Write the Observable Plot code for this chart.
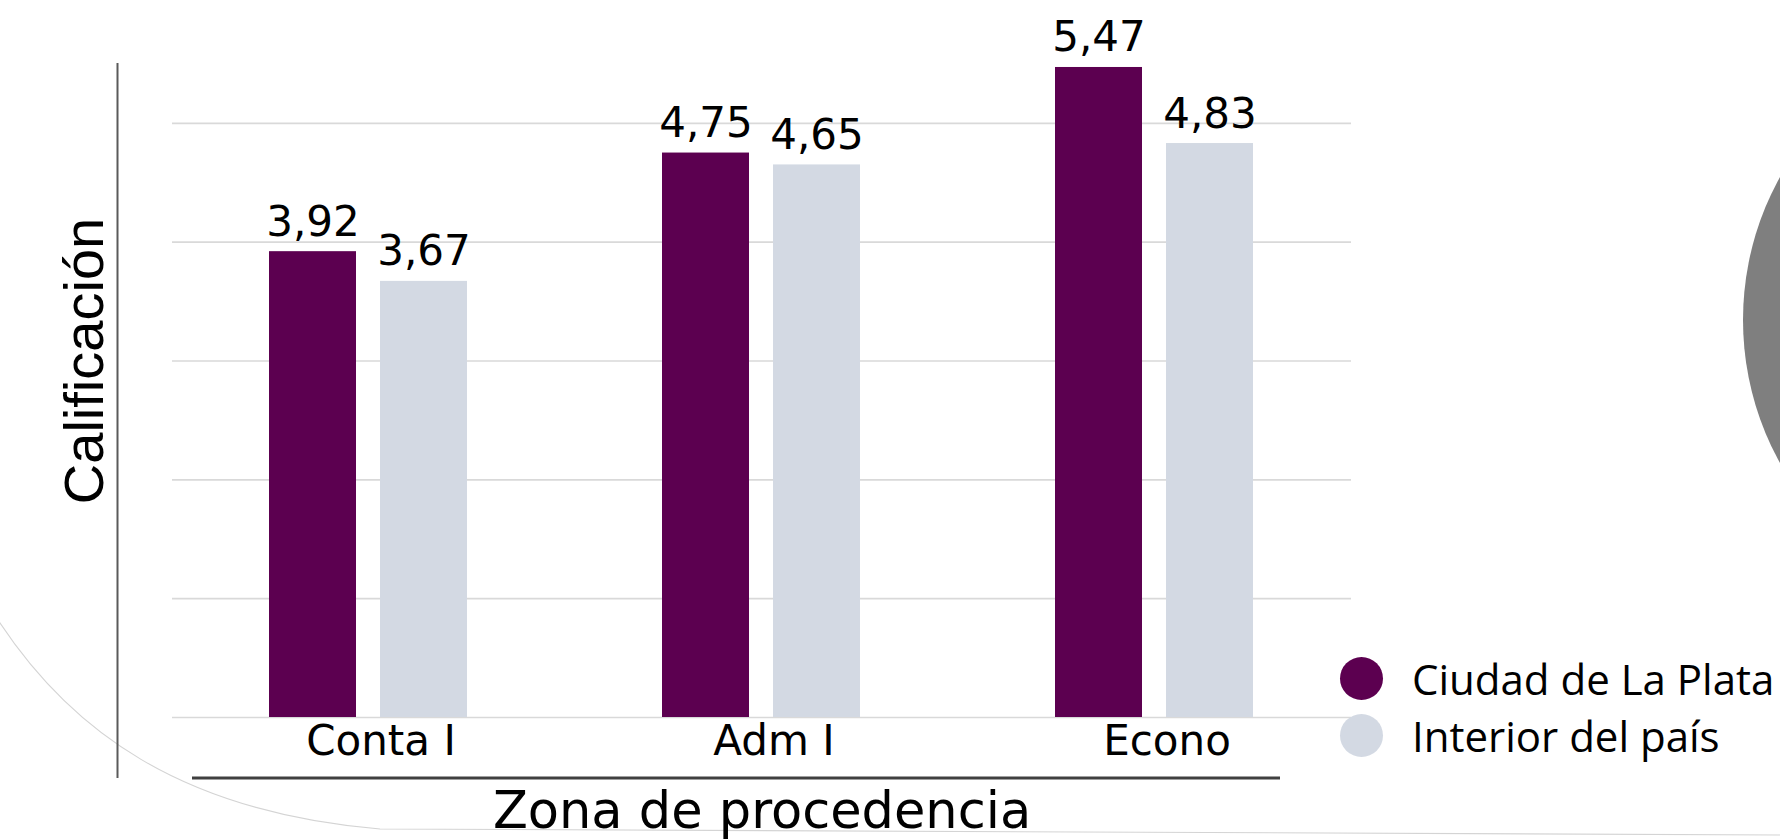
<!DOCTYPE html>
<html>
<head>
<meta charset="utf-8">
<script src="https://cdn.jsdelivr.net/npm/d3@7"></script>
<script src="https://cdn.jsdelivr.net/npm/@observablehq/plot@0.6"></script>
<style>
  html, body { margin: 0; padding: 0; background: #ffffff; }
  #wrap { position: relative; width: 1780px; height: 840px; overflow: hidden; background: #ffffff; }
  #deco, #chart, #legend { position: absolute; left: 0; top: 0; }
  #legend { font-family: "Open Sans", sans-serif; }
</style>
</head>
<body>
<div id="wrap">
  <svg id="deco" width="1780" height="840"></svg>
  <div id="chart"></div>
  <svg id="legend" width="1780" height="840"></svg>
</div>
<script>
// ---- data ----
const categories = ["Conta I", "Adm I", "Econo"];
const series = ["Ciudad de La Plata", "Interior del país"];
const laPlata = [3.92, 4.75, 5.47];
const interior = [3.67, 4.65, 4.83];
const colors = ["#5c0050", "#d3d9e3"];
const yTicks = [0, 1, 2, 3, 4, 5];
const xTitle = "Zona de procedencia";
const yTitle = "Calificación";

const data = categories.flatMap((c, i) => [
  {cat: c, serie: series[0], value: laPlata[i]},
  {cat: c, serie: series[1], value: interior[i]}
]);
const fmt = v => v.toFixed(2).replace(".", ",");

// ---- decorations (slide background) ----
const deco = d3.select("#deco");
deco.append("path")
  .attr("d", "M -2 620 C 70 730, 180 812, 380 829 L 1780 835")
  .attr("fill", "none").attr("stroke", "#d4d4d4").attr("stroke-width", 1.1);
deco.append("circle").attr("cx", 2038).attr("cy", 320).attr("r", 295).attr("fill", "#7f7f7f");
deco.append("line").attr("x1", 117.5).attr("x2", 117.5).attr("y1", 63).attr("y2", 778)
  .attr("stroke", "#5a5a5a").attr("stroke-width", 2);
deco.append("line").attr("x1", 192).attr("x2", 1280).attr("y1", 778).attr("y2", 778)
  .attr("stroke", "#404040").attr("stroke-width", 3);

// ---- chart ----
const chart = Plot.plot({
  width: 1780,
  height: 840,
  marginLeft: 172,
  marginRight: 429,
  marginTop: 4,
  marginBottom: 123,
  style: {background: "transparent", color: "#000", overflow: "visible"},
  fx: {domain: categories, padding: 0, axis: null, label: null},
  x: {domain: series, paddingInner: 0.214, paddingOuter: 0.862, axis: null},
  y: {domain: [0, 6], axis: null},
  color: {domain: series, range: colors},
  marks: [
    Plot.gridY(yTicks, {stroke: "#d9d9d9", strokeOpacity: 1, strokeWidth: 1.6}),
    Plot.barY(data, {fx: "cat", x: "serie", y: "value", fill: "serie"}),
    Plot.text(data, {
      fx: "cat", x: "serie", y: "value", text: d => fmt(d.value),
      lineAnchor: "bottom", dy: -16, fontSize: 42, fontFamily: "DejaVu Sans", fill: "#000"
    }),
    Plot.axisFx({
      anchor: "bottom", tickSize: 0, tickPadding: 8, label: null, dx: 12,
      fontSize: 42, fontFamily: "DejaVu Sans", fill: "#000"
    }),
    Plot.axisFx({
      anchor: "bottom", tickSize: 0, tickFormat: () => "", label: xTitle,
      labelAnchor: "center", labelArrow: "none", labelOffset: 110,
      fontSize: 51, fontFamily: "DejaVu Sans", fill: "#000"
    }),
    Plot.axisY({
      anchor: "left", tickSize: 0, tickFormat: () => "", label: yTitle,
      labelAnchor: "center", labelArrow: "none", labelOffset: 109,
      fontSize: 56, fontFamily: "Liberation Sans", fill: "#000"
    })
  ]
});
document.getElementById("chart").appendChild(chart);

// ---- legend ----
const legend = d3.select("#legend");
const legendItems = series.map((s, i) => ({label: s, color: colors[i]}));
legend.selectAll("g").data(legendItems).join("g")
  .attr("transform", (d, i) => `translate(1361.5, ${678.5 + i * 57})`)
  .call(g => g.append("circle").attr("r", 21.5).attr("fill", d => d.color))
  .call(g => g.append("text").attr("x", 50.5).attr("y", 16)
    .attr("font-size", 42).attr("fill", "#000").text(d => d.label));
</script>
</body>
</html>
